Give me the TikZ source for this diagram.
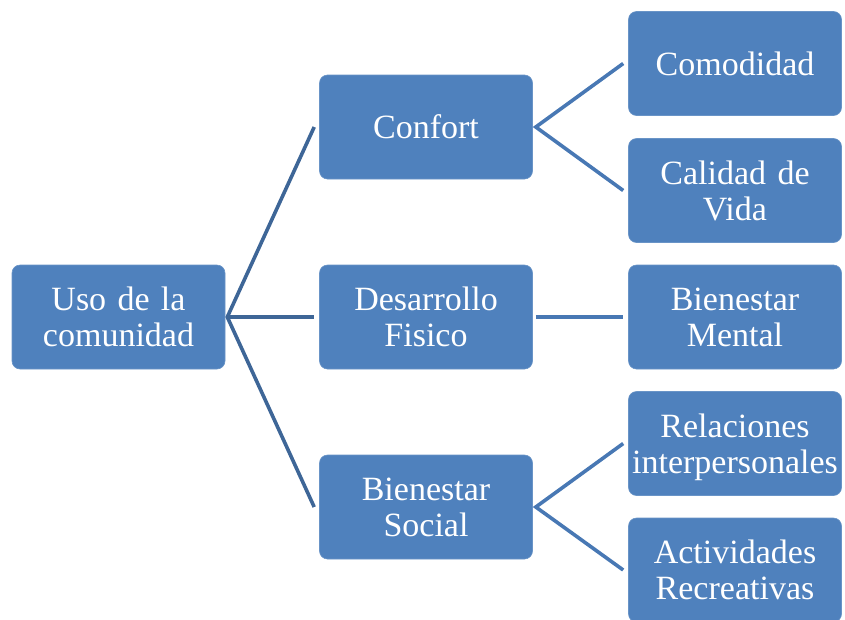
\documentclass[tikz,border=0pt]{standalone}
\usepackage{fontspec}
\setmainfont{Liberation Serif}
\definecolor{boxblue}{HTML}{4F81BD}
\definecolor{lineA}{HTML}{3E6697}
\definecolor{lineB}{HTML}{4878B4}
\begin{document}
\begin{tikzpicture}[x=1pt,y=-1pt,
  bx/.style={draw=boxblue!85!white, line width=0.6pt, fill=boxblue, rounded corners=8pt,
    text=white, inner sep=0pt, text width=213pt, minimum height=104pt, align=center,
    font=\fontsize{34}{36}\selectfont},
  lnA/.style={draw=lineA, line width=3.6pt},
  lnB/.style={draw=lineB, line width=3.6pt}]
\useasboundingbox (0,0) rectangle (845,619);
\clip (0,0) rectangle (845,619);
\node[bx] (root) at (118.5,317) {Uso de la\\comunidad};
\node[bx] (conf) at (426,127) {Confort};
\node[bx] (desa) at (426,317) {Desarrollo\\Fisico};
\node[bx] (bsoc) at (426,507) {Bienestar\\Social};
\node[bx] (como) at (735,63.5) {Comodidad};
\node[bx] (cali) at (735,190.5) {Calidad de\\Vida};
\node[bx] (ment) at (735,317) {Bienestar\\Mental};
\node[bx] (rela) at (735,443.5) {Relaciones\\\smash{interpersonales}};
\node[bx] (acti) at (735,570) {Actividades\\Recreativas};
\coordinate (r) at ([xshift=2pt]root.east);
\draw[lnA] ([xshift=-5pt]conf.west) -- (r) -- ([xshift=-5pt]bsoc.west);
\draw[lnA] (r) -- ([xshift=-5pt]desa.west);
\coordinate (c) at ([xshift=3pt]conf.east);
\draw[lnB] ([xshift=-5pt]como.west) -- (c) -- ([xshift=-5pt]cali.west);
\draw[lnB] ([xshift=3pt]desa.east) -- ([xshift=-5pt]ment.west);
\coordinate (b) at ([xshift=3pt]bsoc.east);
\draw[lnB] ([xshift=-5pt]rela.west) -- (b) -- ([xshift=-5pt]acti.west);
\end{tikzpicture}
\end{document}
